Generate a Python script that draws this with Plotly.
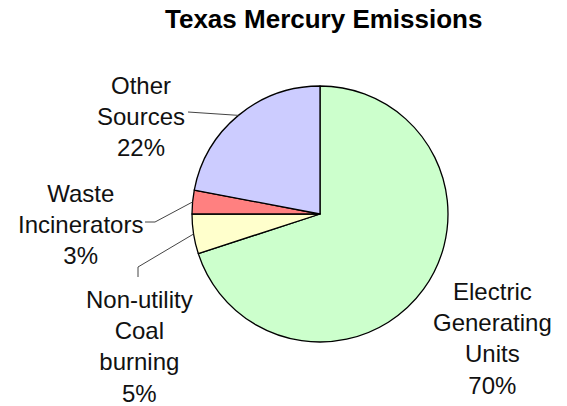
import math
import plotly.graph_objects as go

# ---- data ----
labels = ["Electric<br>Generating<br>Units", "Non-utility<br>Coal<br>burning", "Waste<br>Incinerators", "Other<br>Sources"]
values = [70, 5, 3, 22]
colors = ["#CCFFCC", "#FFFFCC", "#FF8080", "#CCCCFF"]
title_text = "Texas Mercury Emissions"

W, H = 567, 406
CX, CY, R = 320, 214, 128  # pie centre / radius in pixels

# label block centres (pixels, from top-left)
label_pos = [(492, 338), (139, 346), (80, 224), (141, 116)]
# leader line label-side points (pixels); None = no leader
leader_pts = [
    None,
    [(138, 267), (138, 277)],
    [(155, 222), (145, 222)],
    [(188, 112)],
]

def px(x):
    return x / W

def py(y):
    return 1 - y / H

fig = go.Figure(go.Pie(
    labels=[l.replace("<br>", " ") for l in labels],
    values=values,
    marker=dict(colors=colors, line=dict(color="black", width=1.3)),
    sort=False,
    direction="clockwise",
    rotation=0,
    textinfo="none",
    hoverinfo="label+percent",
    domain=dict(x=[px(CX - R), px(CX + R)], y=[py(CY + R), py(CY - R)]),
    showlegend=False,
))

total = sum(values)
annotations = [dict(
    text="<b>%s</b>" % title_text, x=px(323), y=py(19), xref="paper", yref="paper",
    xanchor="center", yanchor="middle", showarrow=False,
    font=dict(family="Liberation Sans, Arial, sans-serif", size=26, color="black"),
)]
shapes = []
cum = 0
for lab, v, pos, lp in zip(labels, values, label_pos, leader_pts):
    pct = round(100 * v / total)
    annotations.append(dict(
        text="%s<br>%d%%" % (lab, pct), x=px(pos[0]), y=py(pos[1]),
        xref="paper", yref="paper", xanchor="center", yanchor="middle",
        showarrow=False, align="center",
        font=dict(family="Liberation Sans, Arial, sans-serif", size=24, color="#111111"),
    ))
    mid = (cum + v / 2) / total * 2 * math.pi
    cum += v
    if lp:
        ex = CX + R * math.sin(mid)
        ey = CY - R * math.cos(mid)
        pts = [(ex, ey)] + lp
        for (x0, y0), (x1, y1) in zip(pts[:-1], pts[1:]):
            shapes.append(dict(type="line", xref="paper", yref="paper",
                               x0=px(x0), y0=py(y0), x1=px(x1), y1=py(y1),
                               line=dict(color="#444444", width=1)))

fig.update_layout(
    width=W, height=H,
    margin=dict(l=0, r=0, t=0, b=0),
    paper_bgcolor="white", plot_bgcolor="white",
    annotations=annotations, shapes=shapes,
)
fig.write_html(
    "out.html",
    config={"displayModeBar": False},
    post_script="document.body.style.margin='0';document.body.style.overflow='hidden';",
)
